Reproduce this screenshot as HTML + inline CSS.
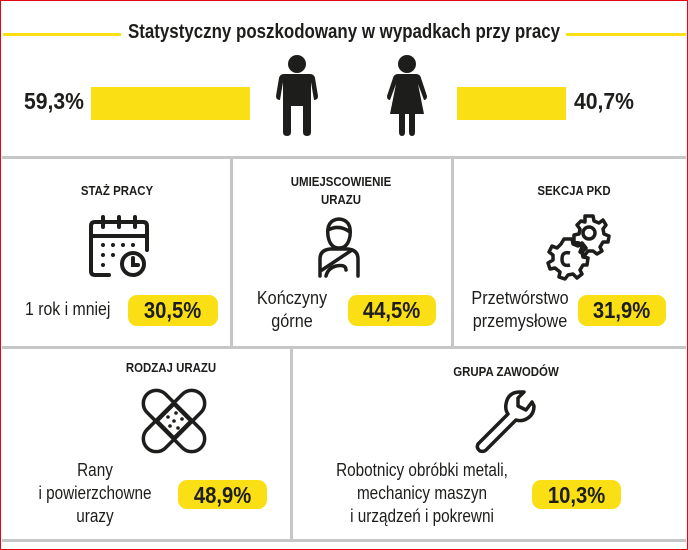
<!DOCTYPE html>
<html><head><meta charset="utf-8"><style>
*{margin:0;padding:0;box-sizing:border-box}
body{width:688px;height:550px;background:#fff;position:relative;overflow:hidden;font-family:"Liberation Sans",sans-serif;color:#1d1d1b}
.a{position:absolute}
.g{position:absolute;background:#c6c6c6}
.y{position:absolute;background:#f9df14}
.t{position:absolute;white-space:nowrap;text-align:center;transform:translateX(-50%) scaleX(0.9)}
.h{font-weight:bold;font-size:13px;transform:translateX(-50%) scaleX(0.88)}
.b{font-size:17px;line-height:23px}
.p{position:absolute;background:#f9df14;border-radius:9px;font-weight:bold;font-size:23px;text-align:center;line-height:30px}
.p span{display:inline-block;transform:scaleX(0.88)}
</style></head><body>
<div class="a" style="left:0;top:0;width:688px;height:550px;border:1px solid #e30613"></div>
<div class="y" style="left:3px;top:33px;width:118px;height:3px"></div>
<div class="y" style="left:566px;top:33px;width:120px;height:3px"></div>
<div class="t" style="left:344px;top:21px;font-size:20px;font-weight:bold;transform:translateX(-50%) scaleX(0.845)">Statystyczny poszkodowany w wypadkach przy pracy</div>
<div class="a" style="left:24px;top:88px;font-size:23px;font-weight:bold;transform-origin:0 0;transform:scaleX(0.92)">59,3%</div>
<div class="y" style="left:91px;top:87px;width:159px;height:33px"></div>
<div class="y" style="left:457px;top:87px;width:109px;height:33px"></div>
<div class="a" style="left:574px;top:88px;font-size:23px;font-weight:bold;transform-origin:0 0;transform:scaleX(0.92)">40,7%</div>
<svg class="a" style="left:270px;top:50px" width="170" height="90">
<g fill="#1d1d1b">
<circle cx="27" cy="14" r="9"/>
<path d="M14 24 H40 Q44 24 45 28 L48 46 Q48 50 44 50 L41 32 V82 Q41 86 37 86 Q33 86 33 82 V56 H21 V82 Q21 86 17 86 Q13 86 13 82 V32 L10 50 Q6 50 6 46 L9 28 Q10 24 14 24Z"/>
<circle cx="137" cy="14" r="9"/>
<path d="M128 24 H146 Q150 24 151 28 L157 46 Q157 50 154 50 L148 34 L154 64 H145 V82 Q145 86 142 86 Q139 86 139 82 V64 H135 V82 Q135 86 132 86 Q129 86 129 82 V64 H120 L126 34 L120 50 Q117 50 117 46 L123 28 Q124 24 128 24Z"/>
</g></svg>
<div class="g" style="left:2px;top:156px;width:684px;height:3px"></div>
<div class="g" style="left:230px;top:156px;width:3px;height:192px"></div>
<div class="g" style="left:451px;top:156px;width:3px;height:192px"></div>
<div class="g" style="left:2px;top:346px;width:684px;height:3px"></div>
<div class="g" style="left:290px;top:346px;width:3px;height:194px"></div>
<div class="g" style="left:2px;top:539px;width:684px;height:3px"></div>

<div class="t h" style="left:117px;top:183px">STAŻ PRACY</div>
<div class="t h" style="left:341px;top:173px;line-height:18px">UMIEJSCOWIENIE<br>URAZU</div>
<div class="t h" style="left:574px;top:183px">SEKCJA PKD</div>

<svg class="a" style="left:85px;top:212px" width="70" height="70" fill="none" stroke="#1d1d1b" stroke-width="4" stroke-linecap="round">
<path d="M24 63 H10 Q6 63 6 59 V14 Q6 10 10 10 H58 Q62 10 62 14 V38"/>
<path d="M6 24 H62"/><path d="M18 5 V15 M34 5 V15 M50 5 V15"/>
<circle cx="48" cy="52" r="11"/><path d="M48 46 V53 H53"/>
<g fill="#1d1d1b" stroke="none"><circle cx="18" cy="33" r="2"/><circle cx="28" cy="33" r="2"/><circle cx="38" cy="33" r="2"/><circle cx="48" cy="33" r="2"/><circle cx="18" cy="43" r="2"/><circle cx="28" cy="43" r="2"/><circle cx="18" cy="53" r="2"/></g>
</svg>
<svg class="a" style="left:312px;top:214px" width="60" height="68" fill="none" stroke="#1d1d1b" stroke-width="3.5" stroke-linecap="round" stroke-linejoin="round">
<path d="M16 22 Q14 6 27 5 Q40 6 38 22 Q36 34 27 34 Q18 34 16 22Z"/><path d="M16 16 Q27 10 38 18"/>
<path d="M8 62 V45 Q8 36 18 35 H36 Q46 36 46 45 V62"/>
<path d="M10 56 L40 36"/><path d="M14 62 Q16 54 24 52 Q34 50 34 56"/>
</svg>
<svg class="a" style="left:540px;top:210px" width="72" height="72" fill="none" stroke="#1d1d1b" stroke-width="3.5" stroke-linejoin="round">
<circle cx="49" cy="23" r="6"/>
<path d="M45 6 L53 6 L54 11 L59 13 L63 10 L66 15 L63 19 L64 24 L69 26 L68 32 L63 32 L60 37 L62 41 L57 44 L53 41 L48 41 L45 45 L40 42 L42 37 L39 33 L34 32 L34 25 L39 24 L40 19 L37 15 L41 11 L45 12Z"/>
<path d="M30 43 Q22 41 22 49 Q22 57 30 55"/>
<path d="M24 29 L32 29 L33 34 L38 36 L42 33 L46 38 L42 42 L43 47 L48 48 L47 55 L43 55 L40 60 L42 64 L37 68 L33 64 L28 65 L25 69 L19 67 L20 62 L15 58 L10 59 L8 53 L13 50 L13 45 L9 42 L12 36 L17 38 L21 34Z"/>
</svg>

<div class="a b" style="left:25px;top:298px;font-size:18px;transform-origin:0 0;transform:scaleX(0.88)">1 rok i mniej</div>
<div class="p" style="left:128px;top:295px;width:90px;height:31px"><span>30,5%</span></div>
<div class="t b" style="left:292px;top:287px;font-size:18px">Kończyny<br>górne</div>
<div class="p" style="left:348px;top:295px;width:88px;height:31px"><span>44,5%</span></div>
<div class="t b" style="left:520px;top:287px;font-size:18px">Przetwórstwo<br>przemysłowe</div>
<div class="p" style="left:578px;top:295px;width:88px;height:31px"><span>31,9%</span></div>

<div class="t h" style="left:171px;top:360px">RODZAJ URAZU</div>
<div class="t h" style="left:506px;top:364px">GRUPA ZAWODÓW</div>
<svg class="a" style="left:140px;top:388px" width="68" height="66" fill="none" stroke="#1d1d1b" stroke-width="3.5">
<g transform="rotate(45 34 33)"><rect x="21" y="-5" width="26" height="76" rx="13"/></g>
<g transform="rotate(-45 34 33)"><rect x="21" y="-5" width="26" height="76" rx="13"/></g>
<g transform="rotate(45 34 33)"><rect x="22" y="21" width="24" height="24"/></g>
<g fill="#1d1d1b" stroke="none"><circle cx="28" cy="29" r="1.8"/><circle cx="36" cy="25" r="1.8"/><circle cx="34" cy="33" r="1.8"/><circle cx="42" cy="31" r="1.8"/><circle cx="30" cy="38" r="1.8"/><circle cx="38" cy="40" r="1.8"/></g>
</svg>
<svg class="a" style="left:472px;top:388px" width="68" height="66" fill="none" stroke="#1d1d1b" stroke-width="3.5" stroke-linejoin="round">
<path d="M48 4 Q36 4 34 16 Q33 22 36 26 L6 56 Q4 60 8 63 Q12 64 14 62 L44 32 Q50 34 56 30 Q62 26 62 18 L60 14 L54 22 L46 18 L46 10 L52 4Z"/>
</svg>

<div class="t b" style="left:95px;top:459px;font-size:18px;transform:translateX(-50%) scaleX(0.85)">Rany<br>i powierzchowne<br>urazy</div>
<div class="p" style="left:178px;top:480px;width:89px;height:29px"><span>48,9%</span></div>
<div class="t b" style="left:422px;top:459px;font-size:18px;transform:translateX(-50%) scaleX(0.85)">Robotnicy obróbki metali,<br>mechanicy maszyn<br>i urządzeń i pokrewni</div>
<div class="p" style="left:532px;top:480px;width:89px;height:29px"><span>10,3%</span></div>
</body></html>
